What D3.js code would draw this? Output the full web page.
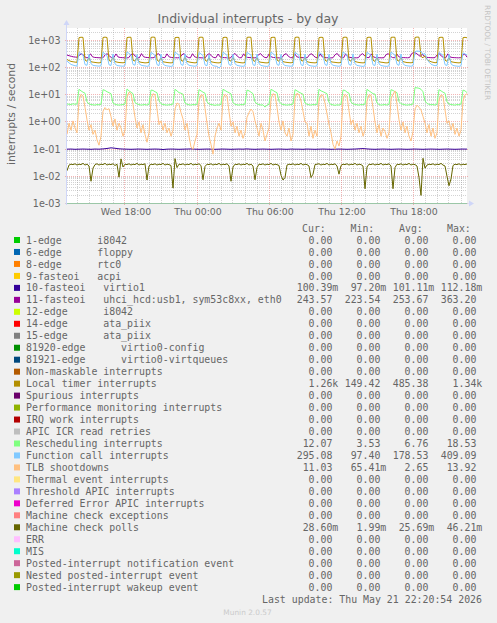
<!DOCTYPE html>
<html><head><meta charset="utf-8">
<script src="https://cdn.jsdelivr.net/npm/d3@7"></script>
<style>
html,body{margin:0;padding:0;background:#F0F0F0;}
svg{display:block;}
text{font-family:"DejaVu Sans",sans-serif;fill:#666666;}
.mono{font-family:"DejaVu Sans Mono",monospace;white-space:pre;font-size:9.9px;}
</style></head><body>
<svg id="chart" width="497" height="623"></svg>
<script>
// ---------------- DATA ----------------
const titleText = "Individual interrupts - by day";
const yAxisTitle = "interrupts / second";
const tStart = new Date(2026, 4, 20, 13, 10);
const tEnd = new Date(2026, 4, 21, 22, 30);
const yMin = 1e-3, yMax = 2765;
const yTickValues = [1e-3, 1e-2, 1e-1, 1, 10, 100, 1000];
const yTickLabels = ["1e-03", "1e-02", "1e-01", "1e+00", "1e+01", "1e+02", "1e+03"];
const xTickLabels = ["Wed 18:00", "Thu 00:00", "Thu 06:00", "Thu 12:00", "Thu 18:00"];

const legendNames = [
  "1-edge      i8042", "6-edge      floppy", "8-edge      rtc0", "9-fasteoi   acpi",
  "10-fasteoi   virtio1", "11-fasteoi   uhci_hcd:usb1, sym53c8xx, eth0",
  "12-edge      i8042", "14-edge      ata_piix", "15-edge      ata_piix",
  "81920-edge      virtio0-config", "81921-edge      virtio0-virtqueues",
  "Non-maskable interrupts", "Local timer interrupts", "Spurious interrupts",
  "Performance monitoring interrupts", "IRQ work interrupts", "APIC ICR read retries",
  "Rescheduling interrupts", "Function call interrupts", "TLB shootdowns",
  "Thermal event interrupts", "Threshold APIC interrupts", "Deferred Error APIC interrupts",
  "Machine check exceptions", "Machine check polls", "ERR", "MIS",
  "Posted-interrupt notification event", "Nested posted-interrupt event", "Posted-interrupt wakeup event"
];
const legendColors = [
  "#00CC00", "#0066B3", "#FF8000", "#FFCC00", "#330099", "#990099", "#CCFF00", "#FF0000",
  "#808080", "#008F00", "#00487D", "#B35A00", "#B38F00", "#6B006B", "#8FB300", "#B30000",
  "#BEBEBE", "#80FF80", "#80C9FF", "#FFC080", "#FFE680", "#AA80FF", "#EE00CC", "#FF8080",
  "#666600", "#FFBFFF", "#00FFCC", "#CC6699", "#999900", "#00CC00"
];
const curValues = [0,0,0,0,0.10039,243.57,0,0,0,0,0,0,1260,0,0,0,0,12.07,295.08,11.03,0,0,0,0,0.0286,0,0,0,0,0];
const minValues = [0,0,0,0,0.0972,223.54,0,0,0,0,0,0,149.42,0,0,0,0,3.53,97.40,0.06541,0,0,0,0,0.00199,0,0,0,0,0];
const avgValues = [0,0,0,0,0.10111,253.67,0,0,0,0,0,0,485.38,0,0,0,0,6.76,178.53,2.65,0,0,0,0,0.02569,0,0,0,0,0];
const maxValues = [0,0,0,0,0.11218,363.20,0,0,0,0,0,0,1340,0,0,0,0,18.53,409.09,13.92,0,0,0,0,0.04621,0,0,0,0,0];

// Series samples (evenly spaced from tStart to tEnd)
const localTimer = [
  200,182,170,165,160,158,
  1270,1320,1300,190,172,235,165,160,156,152,150,155,
  1290,1330,1290,185,170,250,168,160,155,153,151,156,
  1280,1320,1310,188,175,240,166,158,154,150,152,157,
  1300,1340,1300,192,170,230,164,160,155,152,150,154,
  1270,1310,1290,186,173,245,170,162,157,153,150,155,
  1290,1330,1300,190,171,238,166,159,154,151,150,156,
  1280,1320,1290,187,174,242,168,161,156,152,149.5,155,
  1300,1330,1310,185,170,236,165,158,155,151,150,154,
  1280,1320,1300,190,172,244,167,160,156,153,151,157,
  1290,1335,1300,186,175,240,166,159,154,152,150,155,
  1270,1320,1290,188,171,233,165,160,157,153,151,156,
  1290,1330,1300,191,173,247,169,161,155,152,150,154,
  1280,1325,1295,187,170,239,166,159,156,151,150,155,
  1300,1330,1310,189,174,241,167,160,154,153,151,156,
  1290,1340,1320,260,230,280,200,180,165,158,152,155,
  1280,1320,1300,188,172,236,166,160,155,152,150,155,
  1270,1310,1260
];
const functionCall = [
  175,150,132,124,118,114,
  360,330,290,130,122,310,140,122,118,116,114,118,
  370,320,280,128,120,320,138,120,117,115,113,119,
  380,335,295,132,123,305,142,124,118,116,112,117,
  365,325,285,129,119,315,137,121,116,114,111,118,
  375,330,290,131,122,325,141,123,118,115,113,119,
  360,320,280,127,118,300,136,119,114,112,97.4,116,
  370,330,288,130,121,312,139,122,117,114,112,118,
  365,325,292,128,120,318,140,121,116,113,111,117,
  372,328,286,130,122,308,138,120,117,115,113,119,
  368,322,284,129,119,316,137,122,116,114,112,118,
  362,327,289,131,121,310,141,123,118,115,113,119,
  376,333,291,130,123,322,139,121,117,114,111,118,
  366,324,287,128,120,314,138,120,116,113,112,117,
  371,329,290,132,122,319,140,122,117,115,113,119,
  390,409.09,400,395,310,330,210,160,135,124,118,120,
  364,326,288,129,120,311,138,121,116,114,112,118,
  350,320,295.08
];
const irq11 = [
  290,275,262,250,245,242,
  300,330,265,235,232,325,250,238,235,232,230,234,
  305,325,262,236,233,320,248,237,234,231,229,233,
  298,335,268,234,231,330,252,239,236,233,231,235,
  302,328,264,237,233,322,249,238,235,232,230,234,
  296,332,266,235,230,326,251,237,233,231,229,232,
  304,327,263,236,232,318,247,236,234,232,223.54,233,
  299,333,267,234,231,324,250,238,235,232,230,234,
  301,329,265,237,233,321,249,237,234,231,229,233,
  297,331,264,235,232,327,252,239,236,233,231,235,
  303,326,266,236,230,319,248,236,233,231,229,232,
  300,334,263,234,232,325,251,238,235,232,230,234,
  298,328,267,237,233,322,249,237,234,232,230,233,
  302,330,265,235,231,320,250,238,235,233,231,235,
  330,363.2,340,300,260,310,255,240,236,233,231,235,
  299,329,264,236,232,323,249,237,234,232,230,234,
  290,320,243.57
];
const resched = [
  4.6,4.5,4.4,4.7,4.5,4.6,
  16,14,12.5,11.5,5.5,4.6,4.4,4.3,4.2,4.4,4.3,4.5,
  15.5,14.5,13,12,11,5,4.5,4.3,4.2,4.3,4.4,4.6,
  16.5,14,12.5,11,5.2,4.6,4.4,4.2,4.3,4.4,4.2,4.5,
  15,14.5,13,12,6,4.7,4.4,4.3,4.2,4.3,4.4,4.6,
  16,14,12,11.5,10.5,5,4.5,4.3,4.2,4.4,4.3,4.5,
  15.5,14,12.5,11.5,5.5,4.6,4.4,4.3,4.1,4.3,4.2,4.5,
  16,14.5,13,12,10.8,5.2,4.5,4.3,4.2,4.4,4.3,4.6,
  15,14,12.5,11,5.5,4.6,4.4,4.2,4.3,3.53,4.2,4.5,
  16,14.5,13,12,5.8,4.7,4.4,4.3,4.2,4.3,4.4,4.6,
  15.5,14,12.5,11.5,10.5,5,4.5,4.3,4.2,4.4,4.3,4.5,
  16,14,13,12,11,5.2,4.4,4.3,4.1,4.3,4.2,4.5,
  15,14.5,12.5,11.5,5.5,4.6,4.5,4.3,4.2,4.4,4.3,4.6,
  16,14,12.5,11,10.6,5,4.4,4.2,4.3,4.4,4.2,4.5,
  15.5,14.5,13,12,5.6,4.7,4.5,4.3,4.2,4.3,4.4,4.6,
  18.53,18,17.5,16,13,6,4.8,4.5,4.3,4.4,4.2,4.5,
  15.5,14,12.5,11.5,5.5,4.6,4.4,4.3,4.2,4.4,4.3,4.6,
  15,14,12.07
];
const tlb = [
  0.35,0.9,0.5,1.1,0.6,0.4,
  6,10.5,9,3.5,1.2,0.5,0.8,0.35,0.5,0.22,0.14,0.3,
  2.5,3.4,2.8,3.1,1.6,0.7,1.3,0.5,0.9,0.6,0.3,0.5,
  8,12.5,11,4.5,1.5,0.6,1.0,0.4,0.8,0.35,0.18,0.4,
  7,11,10,3,0.8,1.1,0.5,0.9,0.4,0.6,0.3,0.5,
  3,5,4.5,2.2,1.3,0.5,0.9,0.3,0.12,0.1,0.2,0.35,
  6,10,9.5,3.2,0.9,0.3,0.15,0.06541,0.3,0.6,0.9,0.5,
  7,10.5,9,2.4,0.7,1.0,0.4,0.7,0.3,0.5,0.25,0.4,
  1.5,2.2,3,2.4,1.1,0.6,0.3,0.9,0.5,0.2,0.35,0.6,
  7,11,10,3.5,1.0,0.5,1.1,0.4,0.3,0.6,0.2,0.35,
  7.5,11.5,10,6,2.5,1.0,0.9,0.3,0.7,0.25,0.5,0.3,
  6.5,10,9.5,5,2,0.8,0.4,0.15,0.1,0.2,0.13,0.3,
  7,10.5,9,2.6,0.8,1.2,0.5,0.9,0.4,0.7,0.3,0.5,
  6,10,9.5,3.4,1.0,0.4,0.8,0.3,0.6,0.45,0.25,0.4,
  7,10.5,13.92,4.5,1.2,0.5,1.0,0.4,0.7,0.3,0.2,0.45,
  3,4.2,3.5,2.8,1.6,0.9,0.4,0.8,0.3,0.6,0.25,0.4,
  6.5,10,9,2.8,0.9,1.1,0.5,0.9,0.35,0.6,0.3,0.5,
  6,10,11.03
];
const irq10 = [
  0.100,0.101,0.099,0.100,0.101,0.100,0.099,0.101,0.100,0.102,0.106,0.112,0.108,0.103,0.101,0.100,0.099,0.100,0.101,0.100,
  0.099,0.100,0.101,0.100,0.0972,0.100,0.101,0.100,0.099,0.100,0.101,0.102,0.100,0.099,0.100,0.101,0.100,0.099,0.100,0.101,
  0.100,0.099,0.100,0.101,0.100,0.102,0.100,0.099,0.100,0.101,0.100,0.099,0.100,0.101,0.100,0.099,0.101,0.100,0.100,0.099,
  0.101,0.100,0.099,0.100,0.101,0.100,0.099,0.100,0.101,0.100,0.099,0.100,0.101,0.103,0.105,0.102,0.100,0.099,0.100,0.101,
  0.100,0.099,0.100,0.101,0.100,0.099,0.100,0.101,0.100,0.099,0.100,0.101,0.100,0.099,0.100,0.101,0.100,0.099,0.100,0.101,
  0.10039
];
const mcPolls = [
  0.016,0.026,0.028,0.027,0.029,0.026,0.028,0.027,0.03,0.026,0.028,0.024,0.0066,0.02,0.027,0.029,0.026,0.028,0.027,0.03,
  0.026,0.028,0.027,0.029,0.025,0.028,0.0093,0.044,0.022,0.028,0.027,0.029,0.026,0.028,0.027,0.03,0.026,0.028,0.027,0.029,
  0.0073,0.024,0.028,0.027,0.029,0.026,0.028,0.027,0.03,0.026,0.028,0.027,0.025,0.0037,0.045,0.021,0.028,0.027,0.029,0.026,
  0.028,0.027,0.03,0.026,0.028,0.027,0.029,0.025,0.0075,0.023,0.028,0.027,0.029,0.026,0.028,0.027,0.03,0.026,0.028,0.027,
  0.029,0.024,0.0066,0.022,0.028,0.027,0.029,0.026,0.028,0.027,0.03,0.026,0.028,0.024,0.0075,0.021,0.028,0.027,0.029,0.026,
  0.028,0.027,0.03,0.026,0.028,0.027,0.025,0.011,0.0073,0.009,0.026,0.028,0.027,0.029,0.026,0.028,0.027,0.03,0.026,0.028,
  0.027,0.024,0.009,0.012,0.027,0.028,0.029,0.026,0.028,0.027,0.03,0.026,0.028,0.027,0.029,0.024,0.012,0.025,0.028,0.027,
  0.029,0.026,0.028,0.027,0.03,0.026,0.028,0.027,0.024,0.0035,0.022,0.028,0.027,0.029,0.026,0.028,0.027,0.03,0.026,0.028,
  0.027,0.029,0.024,0.0035,0.021,0.028,0.027,0.029,0.026,0.028,0.027,0.03,0.026,0.028,0.027,0.024,0.009,0.00199,0.04621,0.02,
  0.026,0.028,0.027,0.029,0.026,0.028,0.027,0.03,0.026,0.024,0.01,0.0045,0.008,0.025,0.028,0.027,0.029,0.026,0.028,0.027,
  0.0286
];
// which legend entry each plotted array belongs to
const plottedSeries = { 4: irq10, 5: irq11, 12: localTimer, 17: resched, 18: functionCall, 19: tlb, 24: mcPolls };

// ---------------- DRAW ----------------
const svg = d3.select("#chart");
const L = 67, R = 467, T = 28, B = 203;
svg.append("rect").attr("width", 497).attr("height", 623).attr("fill", "#F0F0F0");
svg.append("rect").attr("x", L).attr("y", T).attr("width", R - L).attr("height", B - T).attr("fill", "#FFFFFF");

const x = d3.scaleTime().domain([tStart, tEnd]).range([L, R]);
const y = d3.scaleLog().domain([yMin, yMax]).range([B + 0.5, T + 0.5]);
const snap = v => Math.round(v - 0.5) + 0.5;
const minorCol = "rgba(150,150,150,0.42)";
const majorCol = "rgba(235,120,120,0.55)";

const grid = svg.append("g");
const minorY = [];
for (let e = -3; e <= 3; e++) for (let m = 2; m <= 9; m++) { const v = m * Math.pow(10, e); if (v < yMax) minorY.push(v); }
grid.selectAll("line.mh").data(minorY).enter().append("line")
  .attr("x1", L).attr("x2", R).attr("y1", d => snap(y(d))).attr("y2", d => snap(y(d)))
  .attr("stroke", minorCol).attr("stroke-dasharray", "1,1");
const hours = d3.timeHour.every(1).range(tStart, tEnd).filter(d => d.getHours() % 6 !== 0);
grid.selectAll("line.mv").data(hours).enter().append("line")
  .attr("x1", d => snap(x(d))).attr("x2", d => snap(x(d))).attr("y1", T).attr("y2", B)
  .attr("stroke", minorCol).attr("stroke-dasharray", "1,1");
grid.selectAll("line.Mh").data(yTickValues).enter().append("line")
  .attr("x1", L - 2).attr("x2", R + 2).attr("y1", d => snap(y(d))).attr("y2", d => snap(y(d)))
  .attr("stroke", majorCol).attr("stroke-dasharray", "1,1");
const majorX = d3.timeHour.every(6).range(tStart, tEnd);
grid.selectAll("line.Mv").data(majorX).enter().append("line")
  .attr("x1", d => snap(x(d))).attr("x2", d => snap(x(d))).attr("y1", T).attr("y2", B + 2)
  .attr("stroke", majorCol).attr("stroke-dasharray", "1,1");

// series
svg.append("clipPath").attr("id", "clip").append("rect").attr("x", L).attr("y", T - 1).attr("width", R - L + 1).attr("height", B - T + 2);
const lines = svg.append("g").attr("clip-path", "url(#clip)");
legendNames.forEach((name, i) => {
  const arr = plottedSeries[i];
  if (arr) {
    const n = arr.length;
    const step = (tEnd - tStart) / (n - 1);
    const pts = arr.map((v, k) => [new Date(+tStart + k * step), v]);
    lines.append("path").datum(pts)
      .attr("fill", "none").attr("stroke", legendColors[i]).attr("stroke-width", 1)
      .attr("d", d3.line().x(d => x(d[0])).y(d => y(Math.max(d[1], yMin))));
  } else {
    lines.append("path").datum([[tStart, yMin], [tEnd, yMin]])
      .attr("fill", "none").attr("stroke", legendColors[i]).attr("stroke-width", 1).attr("stroke-opacity", 0.5)
      .attr("d", d3.line().x(d => x(d[0])).y(d => y(d[1])));
  }
});

// axes
const axisCol = "#CFD6F8";
svg.append("line").attr("x1", L - 0.5).attr("x2", L - 0.5).attr("y1", B + 2).attr("y2", T - 4).attr("stroke", axisCol);
svg.append("path").attr("d", `M${L - 3.5},${T - 3} L${L - 0.5},${T - 8} L${L + 2.5},${T - 3} Z`).attr("fill", axisCol);
svg.append("line").attr("x1", L - 2).attr("x2", R + 4).attr("y1", B + 0.5).attr("y2", B + 0.5).attr("stroke", axisCol).attr("stroke-opacity", 0.6);
svg.append("path").attr("d", `M${R + 2},${B - 2.5} L${R + 7},${B + 0.5} L${R + 2},${B + 3.5} Z`).attr("fill", axisCol);

// y tick labels
svg.selectAll("text.yt").data(yTickValues).enter().append("text")
  .attr("x", 60.5).attr("y", d => y(d) + 3.5).attr("text-anchor", "end")
  .attr("font-size", "9.6px").text((d, i) => yTickLabels[i]);
// x tick labels
svg.selectAll("text.xt").data(majorX).enter().append("text")
  .attr("x", d => x(d) + 1).attr("y", 215).attr("text-anchor", "middle")
  .attr("font-size", "9.4px").text((d, i) => xTickLabels[i]);

// titles
svg.append("text").attr("x", 248).attr("y", 23).attr("text-anchor", "middle").attr("font-size", "12.5px").text(titleText);
svg.append("text").attr("transform", "translate(15,114) rotate(-90)").attr("text-anchor", "middle").attr("font-size", "10.8px").text(yAxisTitle);
svg.append("text").attr("transform", "translate(485,5) rotate(90)").attr("text-anchor", "start").attr("font-size", "7.4px")
  .style("fill", "#c4c4c4").text("RRDTOOL / TOBI OETIKER");

// legend
function fmt(v) {
  let n = v, s = " ";
  if (v === 0) { n = 0; }
  else if (Math.abs(v) >= 1000) { n = v / 1000; s = "k"; }
  else if (Math.abs(v) < 1) { n = v * 1000; s = "m"; }
  return n.toFixed(2).padStart(6, " ") + s;
}
const rowY = k => 240 + 11.97 * k;
const hdr = ["Cur:", "Min:", "Avg:", "Max:"];
const hdrX = [302, 350.5, 399, 447];
hdr.forEach((h, i) => svg.append("text").attr("class", "mono").attr("x", hdrX[i]).attr("y", rowY(-1) + 3.6).text(h));
const leg = svg.append("g");
legendNames.forEach((name, i) => {
  const cy = rowY(i);
  leg.append("rect").attr("x", 14).attr("y", cy - 3).attr("width", 6).attr("height", 6).attr("fill", legendColors[i]);
  leg.append("text").attr("class", "mono").attr("x", 26).attr("y", cy + 3.6).text(name);
  const vals = [curValues[i], minValues[i], avgValues[i], maxValues[i]];
  vals.forEach((v, j) => {
    leg.append("text").attr("class", "mono").attr("x", 296.7 + 48 * j).attr("y", cy + 3.6).text(fmt(v));
  });
});
svg.append("text").attr("class", "mono").attr("x", 482).attr("y", rowY(30) + 3.6).attr("text-anchor", "end")
  .text("Last update: Thu May 21 22:20:54 2026");
svg.append("text").attr("x", 247.5).attr("y", 614.5).attr("text-anchor", "middle").attr("font-size", "7.4px")
  .style("fill", "#cbcbcb").text("Munin 2.0.57");
</script>
</body></html>
